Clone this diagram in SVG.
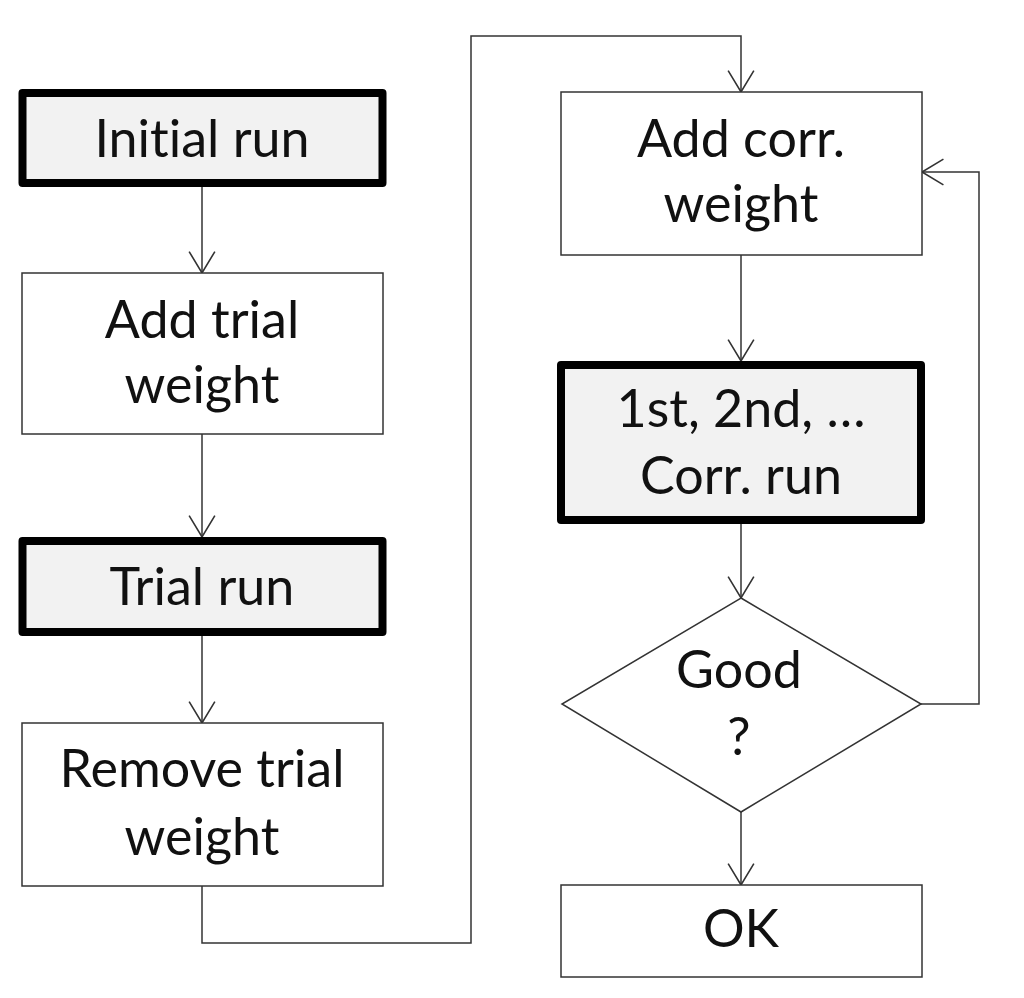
<svg xmlns="http://www.w3.org/2000/svg" width="1024" height="998" viewBox="0 0 1024 998">
<style>
.thick{fill:#f2f2f2;stroke:#000;stroke-width:8;stroke-linejoin:round}
.thin{fill:#fff;stroke:#333;stroke-width:1.5}
.lbl{font-family:Lato,"Open Sans",sans-serif;font-size:52px;fill:#111;text-anchor:middle;font-variant-ligatures:none;font-feature-settings:"liga" 0,"clig" 0}
.con{fill:none;stroke:#333;stroke-width:1.5}
</style>
<defs>
<marker id="arr" markerUnits="userSpaceOnUse" markerWidth="30" markerHeight="30" viewBox="-22 -14 26 28" refX="0" refY="0" orient="auto">
<path d="M-20,-12 L0,0 L-20,12" fill="none" stroke="#333" stroke-width="1.5"/>
</marker>
</defs>
<rect width="1024" height="998" fill="#fff"/>
<g id="connectors">
<path class="con" d="M202,187 V273" marker-end="url(#arr)"/>
<path class="con" d="M202,434 V537" marker-end="url(#arr)"/>
<path class="con" d="M202,636 V723" marker-end="url(#arr)"/>
<path class="con" d="M202,886 V943 H471 V36 H741 V92" marker-end="url(#arr)"/>
<path class="con" d="M741,255 V361" marker-end="url(#arr)"/>
<path class="con" d="M741,524 V598" marker-end="url(#arr)"/>
<path class="con" d="M741,812 V885" marker-end="url(#arr)"/>
<path class="con" d="M921,704 H979 V172 H922" marker-end="url(#arr)"/>
</g>
<g id="initial-run">
<rect class="thick" x="22.5" y="93" width="360" height="90"/>
<text class="lbl" x="202" y="157">Initial run</text>
</g>
<g id="add-trial-weight">
<rect class="thin" x="22" y="273" width="361" height="161"/>
<text class="lbl" x="202" y="338">Add trial</text>
<text class="lbl" x="202" y="403">weight</text>
</g>
<g id="trial-run">
<rect class="thick" x="22.5" y="541" width="360" height="91"/>
<text class="lbl" x="202" y="605">Trial run</text>
</g>
<g id="remove-trial-weight">
<rect class="thin" x="22" y="723" width="361" height="163"/>
<text class="lbl" x="202" y="787">Remove trial</text>
<text class="lbl" x="202" y="855">weight</text>
</g>
<g id="add-corr-weight">
<rect class="thin" x="561" y="92" width="361" height="163"/>
<text class="lbl" x="741" y="157">Add corr.</text>
<text class="lbl" x="741" y="222">weight</text>
</g>
<g id="corr-run">
<rect class="thick" x="561" y="365" width="360" height="155"/>
<text class="lbl" x="741" y="427">1st, 2nd, …</text>
<text class="lbl" x="741" y="494">Corr. run</text>
</g>
<g id="good">
<polygon class="thin" points="741,598 921,704 741,812 562,704"/>
<text class="lbl" x="739" y="688">Good</text>
<text class="lbl" x="739" y="755">?</text>
</g>
<g id="ok">
<rect class="thin" x="561" y="885" width="361" height="92"/>
<text class="lbl" x="741" y="947">OK</text>
</g>
</svg>
